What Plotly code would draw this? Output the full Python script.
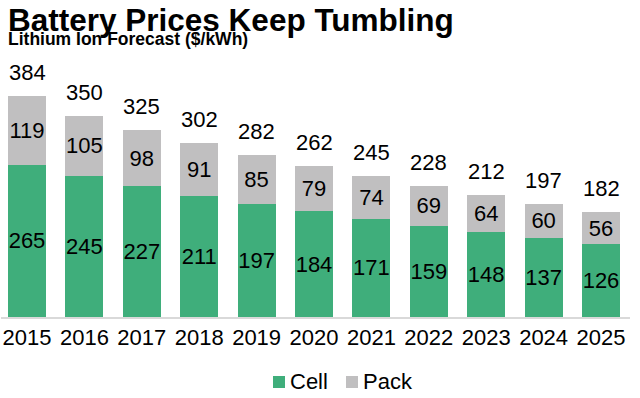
import plotly.graph_objects as go

years = ["2015", "2016", "2017", "2018", "2019", "2020", "2021", "2022", "2023", "2024", "2025"]
cell = [265, 245, 227, 211, 197, 184, 171, 159, 148, 137, 126]
pack = [119, 105, 98, 91, 85, 79, 74, 69, 64, 60, 56]
totals = [384, 350, 325, 302, 282, 262, 245, 228, 212, 197, 182]  # labels as printed
series_names = ["Cell", "Pack"]

FONT = "Liberation Sans, Arial, Helvetica, sans-serif"
GREEN = "#3fae7b"
GRAY = "#c0bfc0"
COLORS = [GREEN, GRAY]
NUM = 22

fig = go.Figure()
for name, vals, col in zip(series_names, [cell, pack], COLORS):
    fig.add_trace(go.Bar(
        x=years, y=vals, name=name, marker=dict(color=col, line=dict(width=0)),
        text=[str(v) for v in vals], textposition="inside", insidetextanchor="middle",
        textangle=0, constraintext="none",
        textfont=dict(size=NUM, color="black", family=FONT),
        showlegend=False, hoverinfo="skip",
    ))

# totals above each stack (category axis -> use category index)
for i, (c, p, t) in enumerate(zip(cell, pack, totals)):
    fig.add_annotation(x=i, y=c + p, text=str(t), showarrow=False, yanchor="bottom",
                       yshift=9, font=dict(size=NUM, color="black", family=FONT))

# titles
fig.add_annotation(xref="paper", yref="paper", x=0, y=1, xanchor="left", yanchor="top",
                   text="<b>Battery Prices Keep Tumbling</b>", showarrow=False,
                   xshift=5, yshift=60, font=dict(size=31.5, color="black", family=FONT))
fig.add_annotation(xref="paper", yref="paper", x=0, y=1, xanchor="left", yanchor="top",
                   text="<b>Lithium Ion Forecast ($/kWh)</b>", showarrow=False,
                   xshift=5, yshift=33, font=dict(size=17.5, color="black", family=FONT))

# legend (manual, compact swatches)
leg_x = [0.4324, 0.5485]
for name, col, lx in zip(series_names, COLORS, leg_x):
    fig.add_shape(type="rect", xref="paper", yref="paper", x0=lx, x1=lx + 0.0191,
                  y0=-0.2763, y1=-0.2296, fillcolor=col, line=dict(width=0))
    fig.add_annotation(xref="paper", yref="paper", x=lx + 0.0239, y=-0.2529,
                       xanchor="left", yanchor="middle", text=name, showarrow=False,
                       font=dict(size=NUM, color="black", family=FONT))

fig.update_layout(
    width=640, height=398,
    barmode="stack", bargap=0.34,
    margin=dict(l=1, r=10, t=60, b=81, autoexpand=False),
    paper_bgcolor="white", plot_bgcolor="white",
    font=dict(family=FONT, size=NUM, color="black"),
    showlegend=False,
    xaxis=dict(type="category", range=[-0.453, 10.505], showline=True, linecolor="#d9d9d9",
               linewidth=1.5, ticks="", showgrid=False, automargin=False,
               tickfont=dict(size=NUM, family=FONT)),
    yaxis=dict(range=[0, 446.6], visible=False, showgrid=False, automargin=False),
)

fig.write_html("out.html", config={"displayModeBar": False},
               post_script="document.body.style.margin='0';")
